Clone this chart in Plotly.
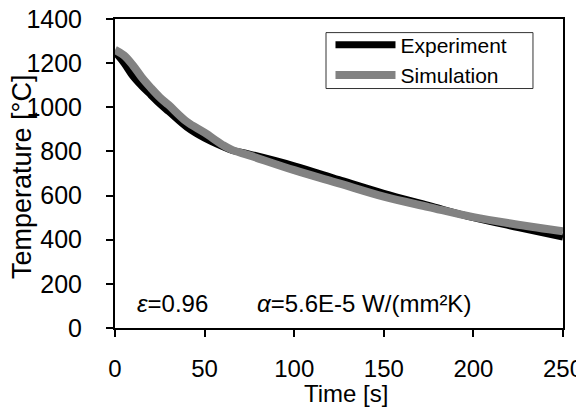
import plotly.graph_objects as go

# Data
time_exp = [0, 5, 10, 15, 20, 25, 30, 40, 50, 60, 65, 75, 100, 125, 150, 175, 200, 225, 250]
temp_exp = [1250, 1200, 1140, 1095, 1055, 1015, 980, 910, 860, 822, 806, 788, 735, 672, 610, 555, 500, 455, 412]

time_sim = [0, 5, 10, 15, 20, 25, 30, 40, 50, 60, 65, 75, 100, 125, 150, 175, 200, 225, 250]
temp_sim = [1260, 1235, 1190, 1135, 1088, 1045, 1010, 935, 885, 830, 808, 782, 715, 655, 595, 548, 502, 468, 438]

x_ticks = [0, 50, 100, 150, 200, 250]
y_ticks = [0, 200, 400, 600, 800, 1000, 1200, 1400]

FONT = "Arial, 'Liberation Sans', sans-serif"
SERIF = "'Liberation Serif', 'Times New Roman', serif"

fig = go.Figure()
fig.add_trace(go.Scatter(x=time_exp, y=temp_exp, mode="lines", name="Experiment",
                         line=dict(color="black", width=7, shape="spline")))
fig.add_trace(go.Scatter(x=time_sim, y=temp_sim, mode="lines", name="Simulation",
                         line=dict(color="#828282", width=8, shape="spline")))

# page body has an 8px margin, so the figure is sized to fit the 584x418 window
fig.update_layout(
    width=576, height=410,
    margin=dict(l=107, r=21, t=11, b=90, autoexpand=False),
    paper_bgcolor="white", plot_bgcolor="white",
    font=dict(family=FONT, color="black"),
    showlegend=True,
    legend=dict(x=0.481, y=0.982, xanchor="left", yanchor="top",
                borderwidth=0, bgcolor="rgba(0,0,0,0)",
                font=dict(size=21, family=FONT), itemwidth=60,
                tracegroupgap=0),
    shapes=[
        dict(type="rect", xref="paper", yref="paper", x0=0.471, x1=0.933, y0=0.775, y1=0.956,
             line=dict(color="#333333", width=1), fillcolor="rgba(0,0,0,0)", layer="below"),
    ],
    xaxis=dict(range=[0, 250], tickvals=x_ticks, showgrid=False, zeroline=False,
               showline=True, linecolor="black", linewidth=2, mirror=True,
               ticks="outside", ticklen=7, tickwidth=1.5, tickcolor="black",
               ticklabelstandoff=11, automargin=False, ticklabeloverflow="allow",
               tickfont=dict(size=24, family=FONT)),
    yaxis=dict(range=[0, 1400], tickvals=y_ticks, showgrid=False, zeroline=False,
               showline=True, linecolor="black", linewidth=2, mirror=True,
               ticks="outside", ticklen=7, tickwidth=1.5, tickcolor="black",
               ticklabelstandoff=19, automargin=False, ticklabeloverflow="allow",
               tickfont=dict(size=25, family=FONT)),
    annotations=[
        dict(x=0.516, y=-0.211, xref="paper", yref="paper", xanchor="center", yanchor="middle",
             showarrow=False, text="Time [s]", font=dict(size=24, family=FONT)),
        dict(x=-0.209, y=0.49, xref="paper", yref="paper", xanchor="center", yanchor="middle",
             showarrow=False, textangle=-90, text="Temperature [°C]", font=dict(size=27, family=FONT)),
        dict(x=11, y=110, xref="x", yref="y", xanchor="left", yanchor="middle", showarrow=False,
             text=f"<i><span style='font-family:{SERIF}'>ε</span></i>=0.96",
             font=dict(size=24, family=FONT)),
        dict(x=78, y=110, xref="x", yref="y", xanchor="left", yanchor="middle", showarrow=False,
             text=f"<i><span style='font-family:{SERIF}'>α</span></i>=5.6E-5 W/(mm²K)",
             font=dict(size=24, family=FONT)),
    ],
)

fig.write_html("out.html")
